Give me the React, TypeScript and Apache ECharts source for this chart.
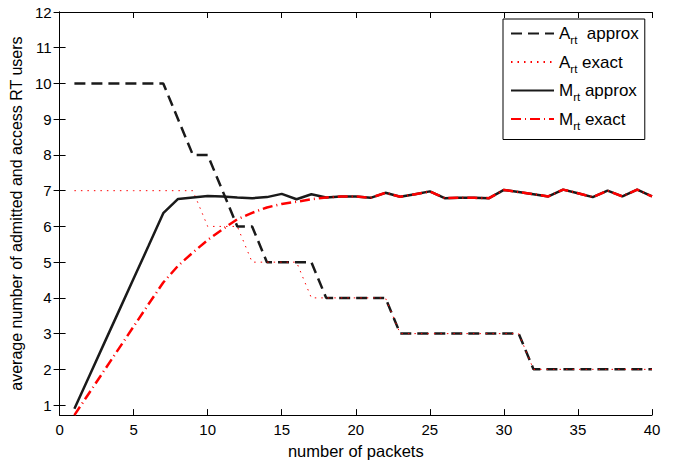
import React, { useEffect, useRef } from "react";
import * as echarts from "echarts";

const xs = [1,2,3,4,5,6,7,8,9,10,11,12,13,14,15,16,17,18,19,20,21,22,23,24,25,26,27,28,29,30,31,32,33,34,35,36,37,38,39,40];
const aApprox = [10,10,10,10,10,10,10,9,8,8,7,6,6,5,5,5,5,4,4,4,4,4,3,3,3,3,3,3,3,3,3,2,2,2,2,2,2,2,2,2];
const aExact = [7,7,7,7,7,7,7,7,7,6,6,6,5,5,5,5,4,4,4,4,4,4,3,3,3,3,3,3,3,3,3,2,2,2,2,2,2,2,2,2];
const mApprox = [0.9,1.81,2.72,3.63,4.54,5.45,6.37,6.77,6.81,6.85,6.84,6.81,6.79,6.82,6.91,6.76,6.9,6.81,6.84,6.84,6.8,6.94,6.83,6.9,6.98,6.79,6.8,6.8,6.79,7.02,6.96,6.9,6.84,7.03,6.93,6.82,7.0,6.84,7.03,6.84];
const mExact = [0.72,1.34,1.96,2.58,3.2,3.82,4.43,4.9,5.27,5.62,5.92,6.2,6.38,6.53,6.63,6.69,6.76,6.81,6.84,6.84,6.8,6.94,6.83,6.9,6.98,6.79,6.8,6.8,6.79,7.02,6.96,6.9,6.84,7.03,6.93,6.82,7.0,6.84,7.03,6.84];
const yTicks = [1,2,3,4,5,6,7,8,9,10,11,12];
const seriesNames = ["A_rt approx", "A_rt exact", "M_rt approx", "M_rt exact"];
const legendLabels: Record<string, string> = {
  "A_rt approx": "{b|A}{s|rt}{b|  approx}",
  "A_rt exact": "{b|A}{s|rt}{b| exact}",
  "M_rt approx": "{b|M}{s|rt}{b| approx}",
  "M_rt exact": "{b|M}{s|rt}{b| exact}",
};

const FONT = "'Liberation Sans', Arial, Helvetica, sans-serif";
const BLACK = "#1a1a1a";
const RED = "#ff0000";

const pairs = (ys: number[]) => xs.map((x, i) => [x, ys[i]]);

export default function App() {
  const ref = useRef<HTMLDivElement>(null);
  useEffect(() => {
    if (!ref.current) return;
    const chart = echarts.init(ref.current, null, { renderer: "svg" });
    const axisCommon = {
      axisLine: { show: true, lineStyle: { color: "#000", width: 1 } },
      splitLine: { show: false },
    };
    chart.setOption({
      animation: false,
      backgroundColor: "#fff",
      grid: { left: 57, right: 22, top: 12, bottom: 43, containLabel: false },
      xAxis: [
        {
          type: "value", min: 0, max: 40, interval: 5, position: "bottom",
          ...axisCommon,
          axisTick: { show: true, inside: true, length: 6, lineStyle: { color: "#000" } },
          axisLabel: { color: "#000", fontFamily: FONT, fontSize: 15, margin: 7 },
          name: "number of packets", nameLocation: "middle", nameGap: 24,
          nameTextStyle: { color: "#000", fontFamily: FONT, fontSize: 16.5 },
        },
        {
          type: "value", min: 0, max: 40, interval: 5, position: "top",
          ...axisCommon,
          axisTick: { show: true, inside: true, length: 6, lineStyle: { color: "#000" } },
          axisLabel: { show: false },
        },
      ],
      yAxis: [
        {
          type: "value", min: 0.72, max: 12, position: "left",
          ...axisCommon,
          axisTick: { show: true, inside: true, length: 6, customValues: yTicks, lineStyle: { color: "#000" } },
          axisLabel: { color: "#000", fontFamily: FONT, fontSize: 15, margin: 8, customValues: yTicks },
          name: "average number of admitted and access RT users", nameLocation: "middle", nameGap: 25,
          nameTextStyle: { color: "#000", fontFamily: FONT, fontSize: 16 },
        },
        {
          type: "value", min: 0.72, max: 12, position: "right",
          ...axisCommon,
          axisTick: { show: true, inside: true, length: 6, customValues: yTicks, lineStyle: { color: "#000" } },
          axisLabel: { show: false },
        },
      ],
      legend: {
        orient: "vertical", left: 503, top: 19,
        backgroundColor: "#fff", borderColor: "#000", borderWidth: 1,
        padding: [6, 6, 8, 7], itemGap: 7.5, itemWidth: 43, itemHeight: 12,
        itemStyle: { opacity: 0 },
        data: seriesNames,
        formatter: (n: string) => legendLabels[n],
        textStyle: {
          color: "#000", fontFamily: FONT, fontSize: 17,
          rich: {
            b: { fontSize: 17, fontFamily: FONT, color: "#000" },
            s: { fontSize: 11.5, fontFamily: FONT, color: "#000", padding: [13, 0, 0, 0] },
          },
        },
      },
      series: [
        { name: seriesNames[0], type: "line", data: pairs(aApprox), symbol: "none", xAxisIndex: 0, yAxisIndex: 0,
          lineStyle: { color: BLACK, width: 2.5, type: [11, 6] }, itemStyle: { color: BLACK } },
        { name: seriesNames[1], type: "line", data: pairs(aExact), symbol: "none",
          lineStyle: { color: RED, width: 1, type: [1.5, 5] }, itemStyle: { color: RED } },
        { name: seriesNames[2], type: "line", data: pairs(mApprox), symbol: "none",
          lineStyle: { color: BLACK, width: 2.5, type: "solid" }, itemStyle: { color: BLACK } },
        { name: seriesNames[3], type: "line", data: pairs(mExact), symbol: "none",
          lineStyle: { color: RED, width: 2.5, type: [10, 4, 1, 4] }, itemStyle: { color: RED } },
      ],
    });
    return () => chart.dispose();
  }, []);
  return (
    <div style={{ position: "absolute", left: 0, top: 0, width: 674, height: 464, background: "#fff" }}>
      <div ref={ref} style={{ width: 674, height: 464 }} />
    </div>
  );
}
